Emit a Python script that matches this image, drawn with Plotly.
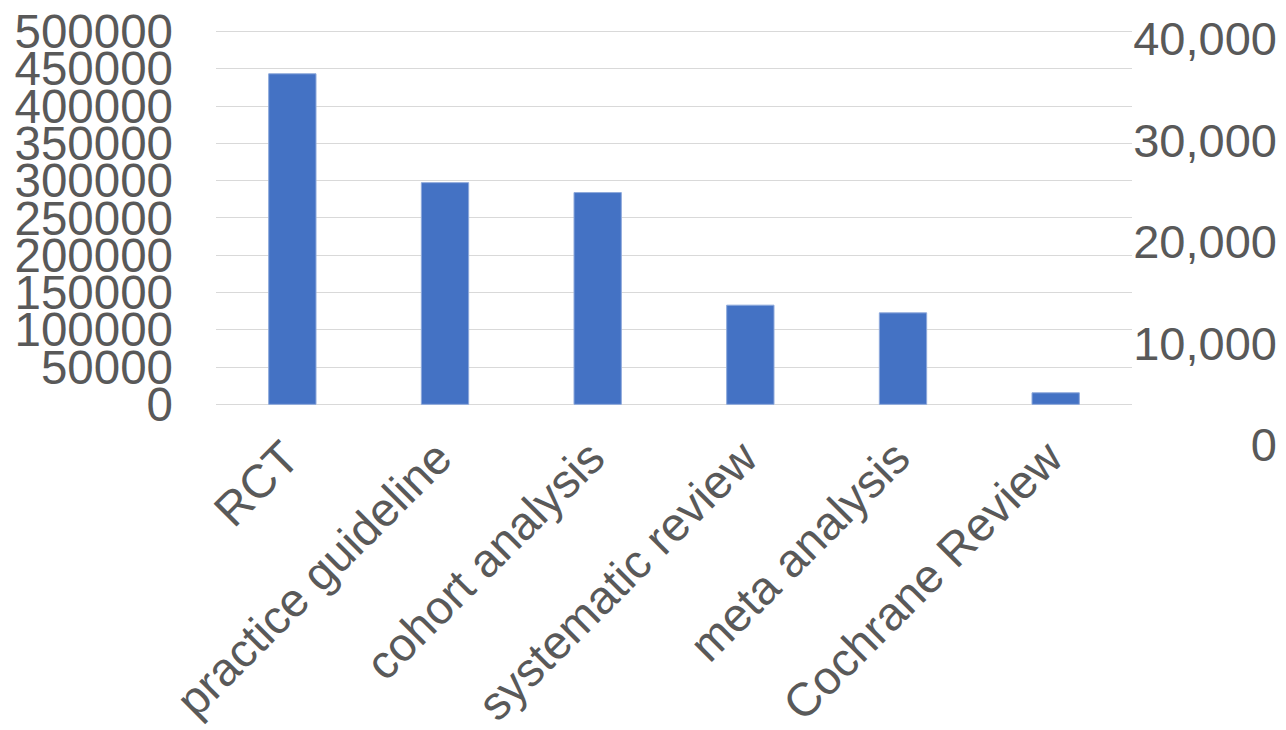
import plotly.graph_objects as go

categories = ["RCT", "practice guideline", "cohort analysis", "systematic review", "meta analysis", "Cochrane Review"]
counts = [443300, 297300, 284000, 133000, 122700, 15500]

left_ticks = [0, 50000, 100000, 150000, 200000, 250000, 300000, 350000, 400000, 450000, 500000]
right_ticks = [0, 10000, 20000, 30000, 40000]

OFF = 8  # default page body margin
W, H = 1286 - OFF, 730 - OFF
plot_left, plot_right = 216 - OFF, 1132 - OFF
plot_top, main_bottom = 31 - OFF, 404.3 - OFF
y2_zero_px, y2_top_px = 445 - OFF, 38 - OFF
y2_label_right = 1277 - OFF
pad_px = 1.5
paper_top = plot_top - pad_px
paper_bottom = 447 - OFF
paper_w = W - plot_left
paper_h = paper_bottom - paper_top

px_per_val = (main_bottom - plot_top) / 500000.0
y_lo = -pad_px / px_per_val
y_hi = 500000 + pad_px / px_per_val
main_dom_bottom = (paper_bottom - (main_bottom + pad_px)) / paper_h

px_per_val2 = (y2_zero_px - y2_top_px) / 40000.0
y2_lo = -(paper_bottom - y2_zero_px) / px_per_val2
y2_hi = (y2_zero_px - paper_top) / px_per_val2

font_color = "#595959"
font_family = "Arial, Liberation Sans, sans-serif"

fig = go.Figure()
fig.add_trace(go.Bar(
    x=categories, y=counts,
    marker=dict(color="#4472C4", line=dict(color="#8EA9DB", width=1)),
    width=0.31, hoverinfo="x+y",
))
# empty secondary series so that the secondary axis is drawn
fig.add_trace(go.Scatter(
    x=categories[:1], y=[None], yaxis="y2", mode="markers",
    marker=dict(opacity=0), showlegend=False, hoverinfo="skip",
))

fig.update_layout(
    width=W, height=H,
    margin=dict(l=plot_left, r=0, t=paper_top, b=H - paper_bottom, autoexpand=False),
    paper_bgcolor="white", plot_bgcolor="rgba(0,0,0,0)",
    showlegend=False,
    font=dict(family=font_family, color=font_color, size=47),
    xaxis=dict(
        domain=[0, (plot_right - plot_left) / paper_w],
        anchor="y",
        tickangle=-45,
        showgrid=False, showline=False, zeroline=False,
        ticks="", automargin=False,
        tickfont=dict(size=47, color=font_color),
        ticklabelshift=-7, ticklabelstandoff=14,
        ticklabeloverflow="allow",
    ),
    yaxis=dict(
        domain=[main_dom_bottom, 1],
        range=[y_lo, y_hi],
        tickvals=left_ticks,
        ticktext=[str(v) for v in left_ticks],
        showgrid=True, gridcolor="#D9D9D9", gridwidth=1.3,
        zeroline=False, showline=False, ticks="", automargin=False,
        tickfont=dict(size=47.5, color=font_color),
        ticklabelstandoff=42,
        ticklabeloverflow="allow",
    ),
    yaxis2=dict(
        domain=[0, 1],
        range=[y2_lo, y2_hi],
        tickvals=right_ticks,
        ticktext=[f"{v:,}" for v in right_ticks],
        anchor="free", side="left",
        position=(y2_label_right - plot_left) / paper_w,
        showgrid=False, zeroline=False, showline=False, ticks="", automargin=False,
        tickfont=dict(size=47, color=font_color),
        ticklabeloverflow="allow",
    ),
    bargap=0.69,
)

fig.write_html("out.html")
